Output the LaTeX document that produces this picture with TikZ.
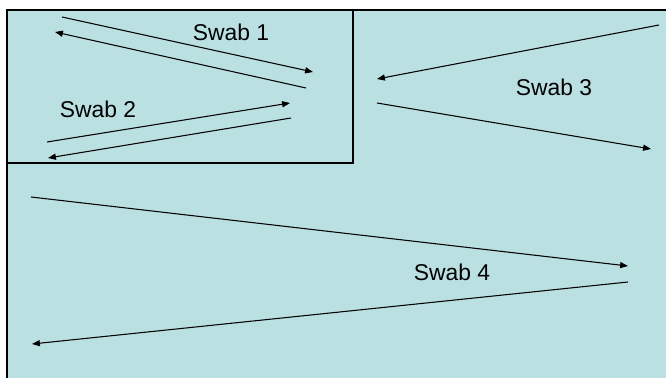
\documentclass[tikz,border=0pt]{standalone}
\usepackage{fontspec}
\setmainfont{Liberation Sans}
\usetikzlibrary{arrows.meta}
\definecolor{swabbg}{RGB}{187,224,226}

\begin{document}
\begin{tikzpicture}[x=0.02cm,y=-0.02cm,
  lbl/.style={font=\fontsize{13}{15}\selectfont},
  swab/.style={-{Triangle[length=4.5pt,width=3.5pt]},line width=0.6pt},
  frame/.style={line width=0.8pt}]
  \useasboundingbox (0,0) rectangle (666,378);
  \fill[swabbg] (7,10) rectangle (666,378);
  \draw[frame] (7,378) -- (7,10) -- (666,10);
  \draw[frame] (7,163) -- (353,163) -- (353,10);
  \node[lbl] (swab1) at (231,32) {Swab 1};
  \node[lbl] (swab2) at (98,109) {Swab 2};
  \node[lbl] (swab3) at (554,87) {Swab 3};
  \node[lbl] (swab4) at (452,272) {Swab 4};
  \coordinate (a1) at (62,17);
  \coordinate (b1) at (313,72);
  \coordinate (c1) at (306,88);
  \coordinate (d1) at (55,32);
  \coordinate (a2) at (47,142);
  \coordinate (b2) at (290,103);
  \coordinate (c2) at (291,118);
  \coordinate (d2) at (48,158);
  \coordinate (a3) at (659,25);
  \coordinate (b3) at (377,79);
  \coordinate (c3) at (377,103);
  \coordinate (d3) at (651,149);
  \coordinate (a4) at (31,197);
  \coordinate (b4) at (628,266);
  \coordinate (c4) at (628,282);
  \coordinate (d4) at (32,344);
  \draw[swab] (a1) -- (b1);
  \draw[swab] (c1) -- (d1);
  \draw[swab] (a2) -- (b2);
  \draw[swab] (c2) -- (d2);
  \draw[swab] (a3) -- (b3);
  \draw[swab] (c3) -- (d3);
  \draw[swab] (a4) -- (b4);
  \draw[swab] (c4) -- (d4);
\end{tikzpicture}
\end{document}
